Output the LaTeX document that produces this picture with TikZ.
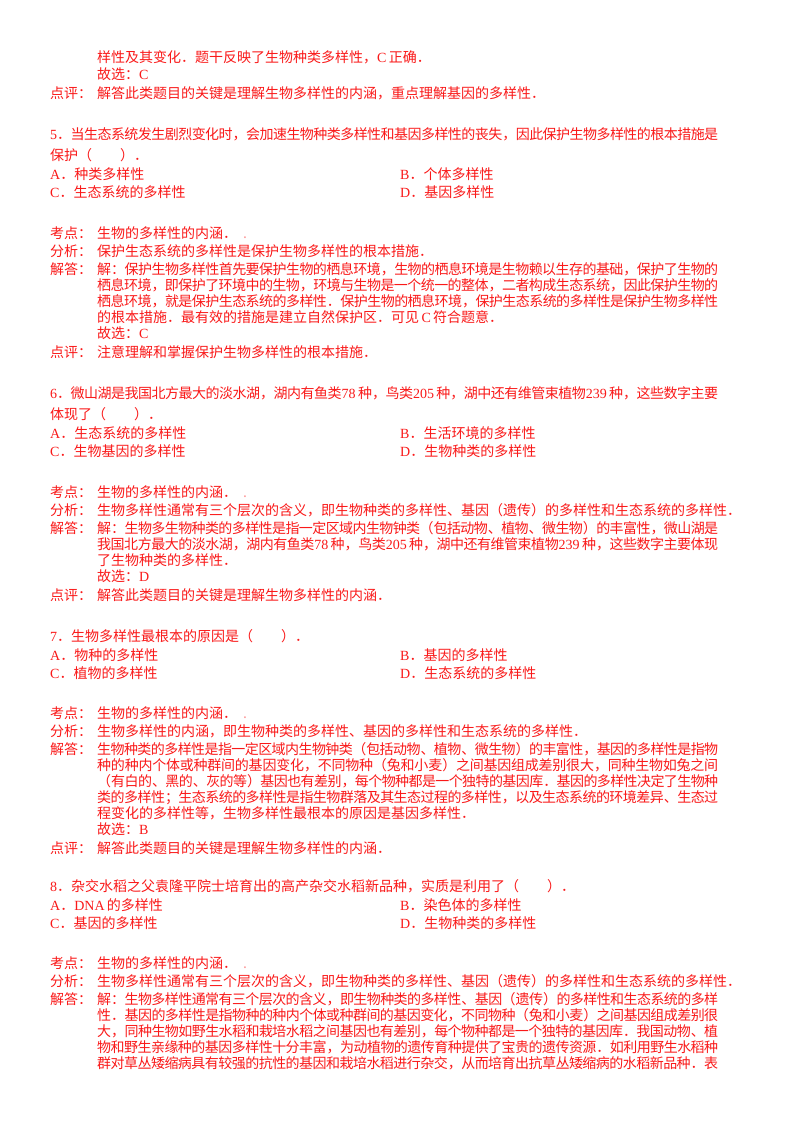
\documentclass[tikz,border=0pt]{standalone}
\usepackage{fontspec}
\setmainfont{Noto Sans CJK SC}
\newfontfamily\latn{Liberation Serif}
\usepackage{tikz}
\XeTeXlinebreaklocale "zh"
\XeTeXlinebreakskip=0pt plus 1pt minus 1pt
\definecolor{ansred}{RGB}{250,25,25}
\newcommand{\ltn}[1]{{\latn #1}}

\begin{document}
\begin{tikzpicture}[x=1pt,y=-1pt,
    txt/.style={anchor=base west,inner sep=0pt,text=ansred,font=\fontsize{14pt}{16pt}\selectfont},
    fline/.style={txt,text width=621pt,align=justify,execute at begin node=\setlength{\parfillskip}{0pt}},
    wline/.style={fline,text width=668pt}]
    \fill[white] (0,0) rectangle (800,1132);
    \useasboundingbox (0,0) rectangle (800,1132);

    % end of question 4
    \node[txt] (r0) at (97,63) {样性及其变化．题干反映了生物种类多样性，\ltn{C}\,正确．};
    \node[txt] (g0) at (97,79) {故选：\ltn{C}};
    \node[txt] (dp0) at (50,98) {点评：};
    \node[txt] (p0) at (97,98) {解答此类题目的关键是理解生物多样性的内涵，重点理解基因的多样性．};

    % question 5
    \node[wline] (q5) at (50,139) {\ltn{5}．当生态系统发生剧烈变化时，会加速生物种类多样性和基因多样性的丧失，因此保护生物多样性的根本措施是};
    \node[txt] (q5b) at (50,160) {保护（　　）．};
    \node[txt] (a5) at (50,179) {\ltn{A}．种类多样性};
    \node[txt] (b5) at (400,179) {\ltn{B}．个体多样性};
    \node[txt] (c5) at (50,197) {\ltn{C}．生态系统的多样性};
    \node[txt] (d5) at (400,197) {\ltn{D}．基因多样性};
    \node[txt] (kd5) at (50,238) {考点：};
    \node[txt] (k5) at (97,238) {生物的多样性的内涵．\hspace{6pt}{\color{ansred!45}.}};
    \node[txt] (fx5) at (50,256) {分析：};
    \node[txt] (f5) at (97,256) {保护生态系统的多样性是保护生物多样性的根本措施．};
    \node[txt] (jd5) at (50,274) {解答：};
    \node[fline] (j5a) at (97,274) {解：保护生物多样性首先要保护生物的栖息环境，生物的栖息环境是生物赖以生存的基础，保护了生物的};
    \node[fline] (j5b) at (97,290) {栖息环境，即保护了环境中的生物，环境与生物是一个统一的整体，二者构成生态系统，因此保护生物的};
    \node[fline] (j5c) at (97,306) {栖息环境，就是保护生态系统的多样性．保护生物的栖息环境，保护生态系统的多样性是保护生物多样性};
    \node[txt] (j5d) at (97,322) {的根本措施．最有效的措施是建立自然保护区．可见\,\ltn{C}\,符合题意．};
    \node[txt] (g5) at (97,338) {故选：\ltn{C}};
    \node[txt] (dp5) at (50,357) {点评：};
    \node[txt] (p5) at (97,357) {注意理解和掌握保护生物多样性的根本措施．};

    % question 6
    \node[wline] (q6) at (50,398) {\ltn{6}．微山湖是我国北方最大的淡水湖，湖内有鱼类\ltn{78}\,种，鸟类\ltn{205}\,种，湖中还有维管束植物\ltn{239}\,种，这些数字主要};
    \node[txt] (q6b) at (50,419) {体现了（　　）．};
    \node[txt] (a6) at (50,438) {\ltn{A}．生态系统的多样性};
    \node[txt] (b6) at (400,438) {\ltn{B}．生活环境的多样性};
    \node[txt] (c6) at (50,456) {\ltn{C}．生物基因的多样性};
    \node[txt] (d6) at (400,456) {\ltn{D}．生物种类的多样性};
    \node[txt] (kd6) at (50,497) {考点：};
    \node[txt] (k6) at (97,497) {生物的多样性的内涵．\hspace{6pt}{\color{ansred!45}.}};
    \node[txt] (fx6) at (50,515) {分析：};
    \node[txt] (f6) at (97,515) {生物多样性通常有三个层次的含义，即生物种类的多样性、基因（遗传）的多样性和生态系统的多样性．};
    \node[txt] (jd6) at (50,533) {解答：};
    \node[fline] (j6a) at (97,533) {解：生物多生物种类的多样性是指一定区域内生物钟类（包括动物、植物、微生物）的丰富性，微山湖是};
    \node[fline] (j6b) at (97,549) {我国北方最大的淡水湖，湖内有鱼类\ltn{78}\,种，鸟类\ltn{205}\,种，湖中还有维管束植物\ltn{239}\,种，这些数字主要体现};
    \node[txt] (j6c) at (97,565) {了生物种类的多样性．};
    \node[txt] (g6) at (97,581) {故选：\ltn{D}};
    \node[txt] (dp6) at (50,600) {点评：};
    \node[txt] (p6) at (97,600) {解答此类题目的关键是理解生物多样性的内涵．};

    % question 7
    \node[txt] (q7) at (50,641) {\ltn{7}．生物多样性最根本的原因是（　　）．};
    \node[txt] (a7) at (50,660) {\ltn{A}．物种的多样性};
    \node[txt] (b7) at (400,660) {\ltn{B}．基因的多样性};
    \node[txt] (c7) at (50,678) {\ltn{C}．植物的多样性};
    \node[txt] (d7) at (400,678) {\ltn{D}．生态系统的多样性};
    \node[txt] (kd7) at (50,718) {考点：};
    \node[txt] (k7) at (97,718) {生物的多样性的内涵．\hspace{6pt}{\color{ansred!45}.}};
    \node[txt] (fx7) at (50,736) {分析：};
    \node[txt] (f7) at (97,736) {生物多样性的内涵，即生物种类的多样性、基因的多样性和生态系统的多样性．};
    \node[txt] (jd7) at (50,754) {解答：};
    \node[fline] (j7a) at (97,754) {生物种类的多样性是指一定区域内生物钟类（包括动物、植物、微生物）的丰富性，基因的多样性是指物};
    \node[fline] (j7b) at (97,770) {种的种内个体或种群间的基因变化，不同物种（兔和小麦）之间基因组成差别很大，同种生物如兔之间};
    \node[fline] (j7c) at (97,786) {（有白的、黑的、灰的等）基因也有差别，每个物种都是一个独特的基因库．基因的多样性决定了生物种};
    \node[fline] (j7d) at (97,802) {类的多样性；生态系统的多样性是指生物群落及其生态过程的多样性，以及生态系统的环境差异、生态过};
    \node[txt] (j7e) at (97,818) {程变化的多样性等，生物多样性最根本的原因是基因多样性．};
    \node[txt] (g7) at (97,834) {故选：\ltn{B}};
    \node[txt] (dp7) at (50,853) {点评：};
    \node[txt] (p7) at (97,853) {解答此类题目的关键是理解生物多样性的内涵．};

    % question 8
    \node[txt] (q8) at (50,891) {\ltn{8}．杂交水稻之父袁隆平院士培育出的高产杂交水稻新品种，实质是利用了（　　）．};
    \node[txt] (a8) at (50,910) {\ltn{A}．\ltn{DNA}\,的多样性};
    \node[txt] (b8) at (400,910) {\ltn{B}．染色体的多样性};
    \node[txt] (c8) at (50,928) {\ltn{C}．基因的多样性};
    \node[txt] (d8) at (400,928) {\ltn{D}．生物种类的多样性};
    \node[txt] (kd8) at (50,968) {考点：};
    \node[txt] (k8) at (97,968) {生物的多样性的内涵．\hspace{6pt}{\color{ansred!45}.}};
    \node[txt] (fx8) at (50,986) {分析：};
    \node[txt] (f8) at (97,986) {生物多样性通常有三个层次的含义，即生物种类的多样性、基因（遗传）的多样性和生态系统的多样性．};
    \node[txt] (jd8) at (50,1004) {解答：};
    \node[fline] (j8a) at (97,1004) {解：生物多样性通常有三个层次的含义，即生物种类的多样性、基因（遗传）的多样性和生态系统的多样};
    \node[fline] (j8b) at (97,1020) {性．基因的多样性是指物种的种内个体或种群间的基因变化，不同物种（兔和小麦）之间基因组成差别很};
    \node[fline] (j8c) at (97,1036) {大，同种生物如野生水稻和栽培水稻之间基因也有差别，每个物种都是一个独特的基因库．我国动物、植};
    \node[fline] (j8d) at (97,1052) {物和野生亲缘种的基因多样性十分丰富，为动植物的遗传育种提供了宝贵的遗传资源．如利用野生水稻种};
    \node[fline] (j8e) at (97,1068) {群对草丛矮缩病具有较强的抗性的基因和栽培水稻进行杂交，从而培育出抗草丛矮缩病的水稻新品种．表};
\end{tikzpicture}
\end{document}
